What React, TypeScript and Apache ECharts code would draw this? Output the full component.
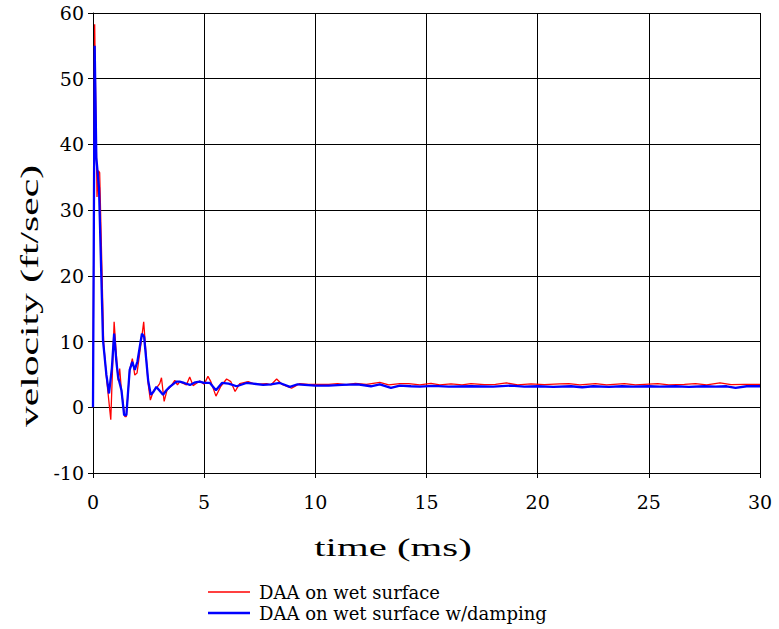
import React, { useEffect, useRef } from "react";
import * as echarts from "echarts";

const seriesNames = ["DAA on wet surface", "DAA on wet surface w/damping"];

const redTimes = [
  0, 0.075, 0.18, 0.24, 0.3, 0.48, 0.62, 0.8, 0.95, 1.05, 1.13, 1.2, 1.28, 1.43, 1.5, 1.65, 1.77, 1.88, 1.98, 2.15,
  2.28, 2.48, 2.58, 2.73, 2.85, 3.0, 3.08, 3.2, 3.33, 3.5, 3.68, 3.8, 3.9, 4.2, 4.35, 4.5, 4.8, 5.0, 5.17, 5.3,
  5.53, 5.75, 6.01, 6.2, 6.39, 6.6, 6.98, 7.3, 7.81, 8.0, 8.26, 8.5, 8.93, 9.3, 9.7, 10.0, 10.6, 11.0, 11.4, 11.8,
  12.3, 12.9, 13.3, 13.8, 14.2, 14.7, 15.2, 15.6, 16.1, 16.6, 17.0, 17.6, 18.1, 18.6, 19.1, 19.7, 20.3, 21.0, 21.4, 21.9,
  22.6, 23.1, 23.9, 24.4, 25.4, 25.9, 26.6, 27.1, 27.6, 28.2, 28.7, 29.3, 30.0,
];
const redValues = [
  0, 58.3, 32, 36, 35.7, 9.7, 4, -1.9, 13, 8, 4.1, 5.9, 2.5, -1.4, -1.4, 5.7, 7.4, 4.9, 5.2, 9.5,
  13, 3.6, 1.1, 2.6, 2.9, 3.6, 4.5, 0.9, 2.6, 3.2, 4.1, 3.4, 3.9, 3.4, 4.6, 3.3, 4.0, 3.5, 4.7, 3.9,
  1.7, 3.2, 4.3, 3.9, 2.4, 3.6, 3.9, 3.5, 3.6, 3.4, 4.3, 3.5, 2.9, 3.6, 3.5, 3.5, 3.5, 3.6, 3.45, 3.65,
  3.5, 3.8, 3.4, 3.6, 3.6, 3.4, 3.65, 3.4, 3.55, 3.4, 3.6, 3.45, 3.5, 3.7, 3.4, 3.55, 3.45, 3.55, 3.6, 3.4,
  3.6, 3.4, 3.6, 3.4, 3.6, 3.4, 3.5, 3.6, 3.4, 3.7, 3.45, 3.5, 3.5,
];

const blueTimes = [
  0, 0.075, 0.15, 0.27, 0.45, 0.6, 0.72, 0.85, 0.95, 1.05, 1.13, 1.28, 1.4, 1.5, 1.65, 1.77, 1.88, 2.0, 2.2, 2.3,
  2.48, 2.6, 2.73, 2.85, 3.0, 3.15, 3.3, 3.45, 3.75, 3.9, 4.1, 4.36, 4.6, 4.8, 5.0, 5.26, 5.53, 5.8, 6.1, 6.46,
  6.9, 7.2, 7.65, 8.0, 8.4, 8.86, 9.2, 10.0, 10.6, 11.2, 11.9, 12.5, 12.9, 13.4, 13.8, 14.3, 14.7, 15.3, 16.0, 17.0,
  18.0, 18.8, 19.4, 20.0, 20.7, 21.5, 22.0, 22.5, 23.2, 23.8, 24.3, 25.0, 25.5, 26.2, 26.8, 27.5, 28.0, 28.5, 28.9, 29.4,
  30.0,
];
const blueValues = [
  0, 55, 38, 33.4, 10.2, 5, 2.1, 6, 11.2, 7, 4.6, 2.6, -1.2, -1.2, 5.7, 6.9, 5.7, 7, 11.2, 10.7,
  4.1, 1.9, 2.4, 3.1, 2.5, 1.9, 2.6, 3.1, 3.9, 3.9, 3.7, 3.4, 3.8, 3.9, 3.7, 3.7, 2.6, 3.7, 3.6, 3.2,
  3.7, 3.6, 3.4, 3.5, 3.7, 3.1, 3.5, 3.3, 3.3, 3.4, 3.5, 3.2, 3.5, 2.95, 3.3, 3.2, 3.15, 3.25, 3.15, 3.2,
  3.15, 3.3, 3.15, 3.2, 3.1, 3.2, 3.05, 3.2, 3.1, 3.2, 3.15, 3.2, 3.15, 3.2, 3.1, 3.2, 3.15, 3.2, 2.95, 3.2,
  3.2,
];

const xTicks = { min: 0, max: 30, interval: 5 };
const yTicks = { min: -10, max: 60, interval: 10 };

const SERIF = "Liberation Serif";
const WIDE = "DejaVu Serif";

export default function App() {
  const ref = useRef<HTMLDivElement>(null);
  useEffect(() => {
    if (!ref.current) return;
    const chart = echarts.init(ref.current, undefined, { renderer: "svg" });
    const red = redTimes.map((t, i) => [t, redValues[i]]);
    const blue = blueTimes.map((t, i) => [t, blueValues[i]]);
    const legendCommon = {
      show: true,
      orient: "vertical",
      left: 203,
      itemWidth: 42,
      icon: "rect",
      formatter: "{t|{name}}",
      textStyle: {
        color: "#000",
        fontFamily: WIDE,
        fontSize: 18,
        padding: [0, 0, 0, 4],
        rich: { t: { fontFamily: WIDE, fontSize: 18, color: "#000" } },
      },
    };
    chart.setOption({
      animation: false,
      backgroundColor: "#ffffff",
      textStyle: { fontFamily: WIDE, color: "#000" },
      grid: { left: 93, top: 13, right: 19, bottom: 156, containLabel: false },
      xAxis: {
        type: "value",
        min: xTicks.min,
        max: xTicks.max,
        interval: xTicks.interval,
        axisLine: { show: true, onZero: false, lineStyle: { color: "#000", width: 1 } },
        axisTick: { show: true, inside: false, length: 5, lineStyle: { color: "#000" } },
        axisLabel: {
          color: "#000",
          fontFamily: WIDE,
          fontSize: 19,
          margin: 19,
          formatter: "{v|{value}}",
          rich: { v: { fontFamily: WIDE, fontSize: 19, color: "#000" } },
        },
        splitLine: { show: true, lineStyle: { color: "#000", width: 1 } },
      },
      yAxis: {
        type: "value",
        min: yTicks.min,
        max: yTicks.max,
        interval: yTicks.interval,
        axisLine: { show: true, onZero: false, lineStyle: { color: "#000", width: 1 } },
        axisTick: { show: true, inside: false, length: 5, lineStyle: { color: "#000" } },
        axisLabel: {
          color: "#000",
          fontFamily: WIDE,
          fontSize: 19,
          margin: 9,
          formatter: "{v|{value}}",
          rich: { v: { fontFamily: WIDE, fontSize: 19, color: "#000" } },
        },
        splitLine: { show: true, lineStyle: { color: "#000", width: 1 } },
      },
      legend: [
        { ...legendCommon, top: 578, itemHeight: 1.5, data: [seriesNames[0]] },
        { ...legendCommon, top: 599, itemHeight: 2.5, data: [seriesNames[1]] },
      ],
      graphic: [
        {
          type: "text",
          x: 29,
          y: 296,
          rotation: Math.PI / 2,
          scaleX: 1.6,
          style: {
            text: "velocity (ft/sec)",
            fontFamily: SERIF,
            fontSize: 26,
            fill: "#000",
            textAlign: "center",
            textVerticalAlign: "middle",
          },
        },
        {
          type: "text",
          x: 393,
          y: 547,
          scaleX: 1.57,
          style: {
            text: "time (ms)",
            fontFamily: SERIF,
            fontSize: 26,
            fill: "#000",
            textAlign: "center",
            textVerticalAlign: "middle",
          },
        },
      ],
      series: [
        {
          name: seriesNames[0],
          type: "line",
          data: red,
          showSymbol: false,
          symbol: "none",
          lineStyle: { color: "#ff0000", width: 1.3 },
          itemStyle: { color: "#ff0000" },
          z: 2,
        },
        {
          name: seriesNames[1],
          type: "line",
          data: blue,
          showSymbol: false,
          symbol: "none",
          lineStyle: { color: "#0000ff", width: 2.3 },
          itemStyle: { color: "#0000ff" },
          z: 3,
        },
      ],
    });
    return () => chart.dispose();
  }, []);
  return <div ref={ref} style={{ width: 779, height: 629, position: "absolute", left: 0, top: 0 }} />;
}
